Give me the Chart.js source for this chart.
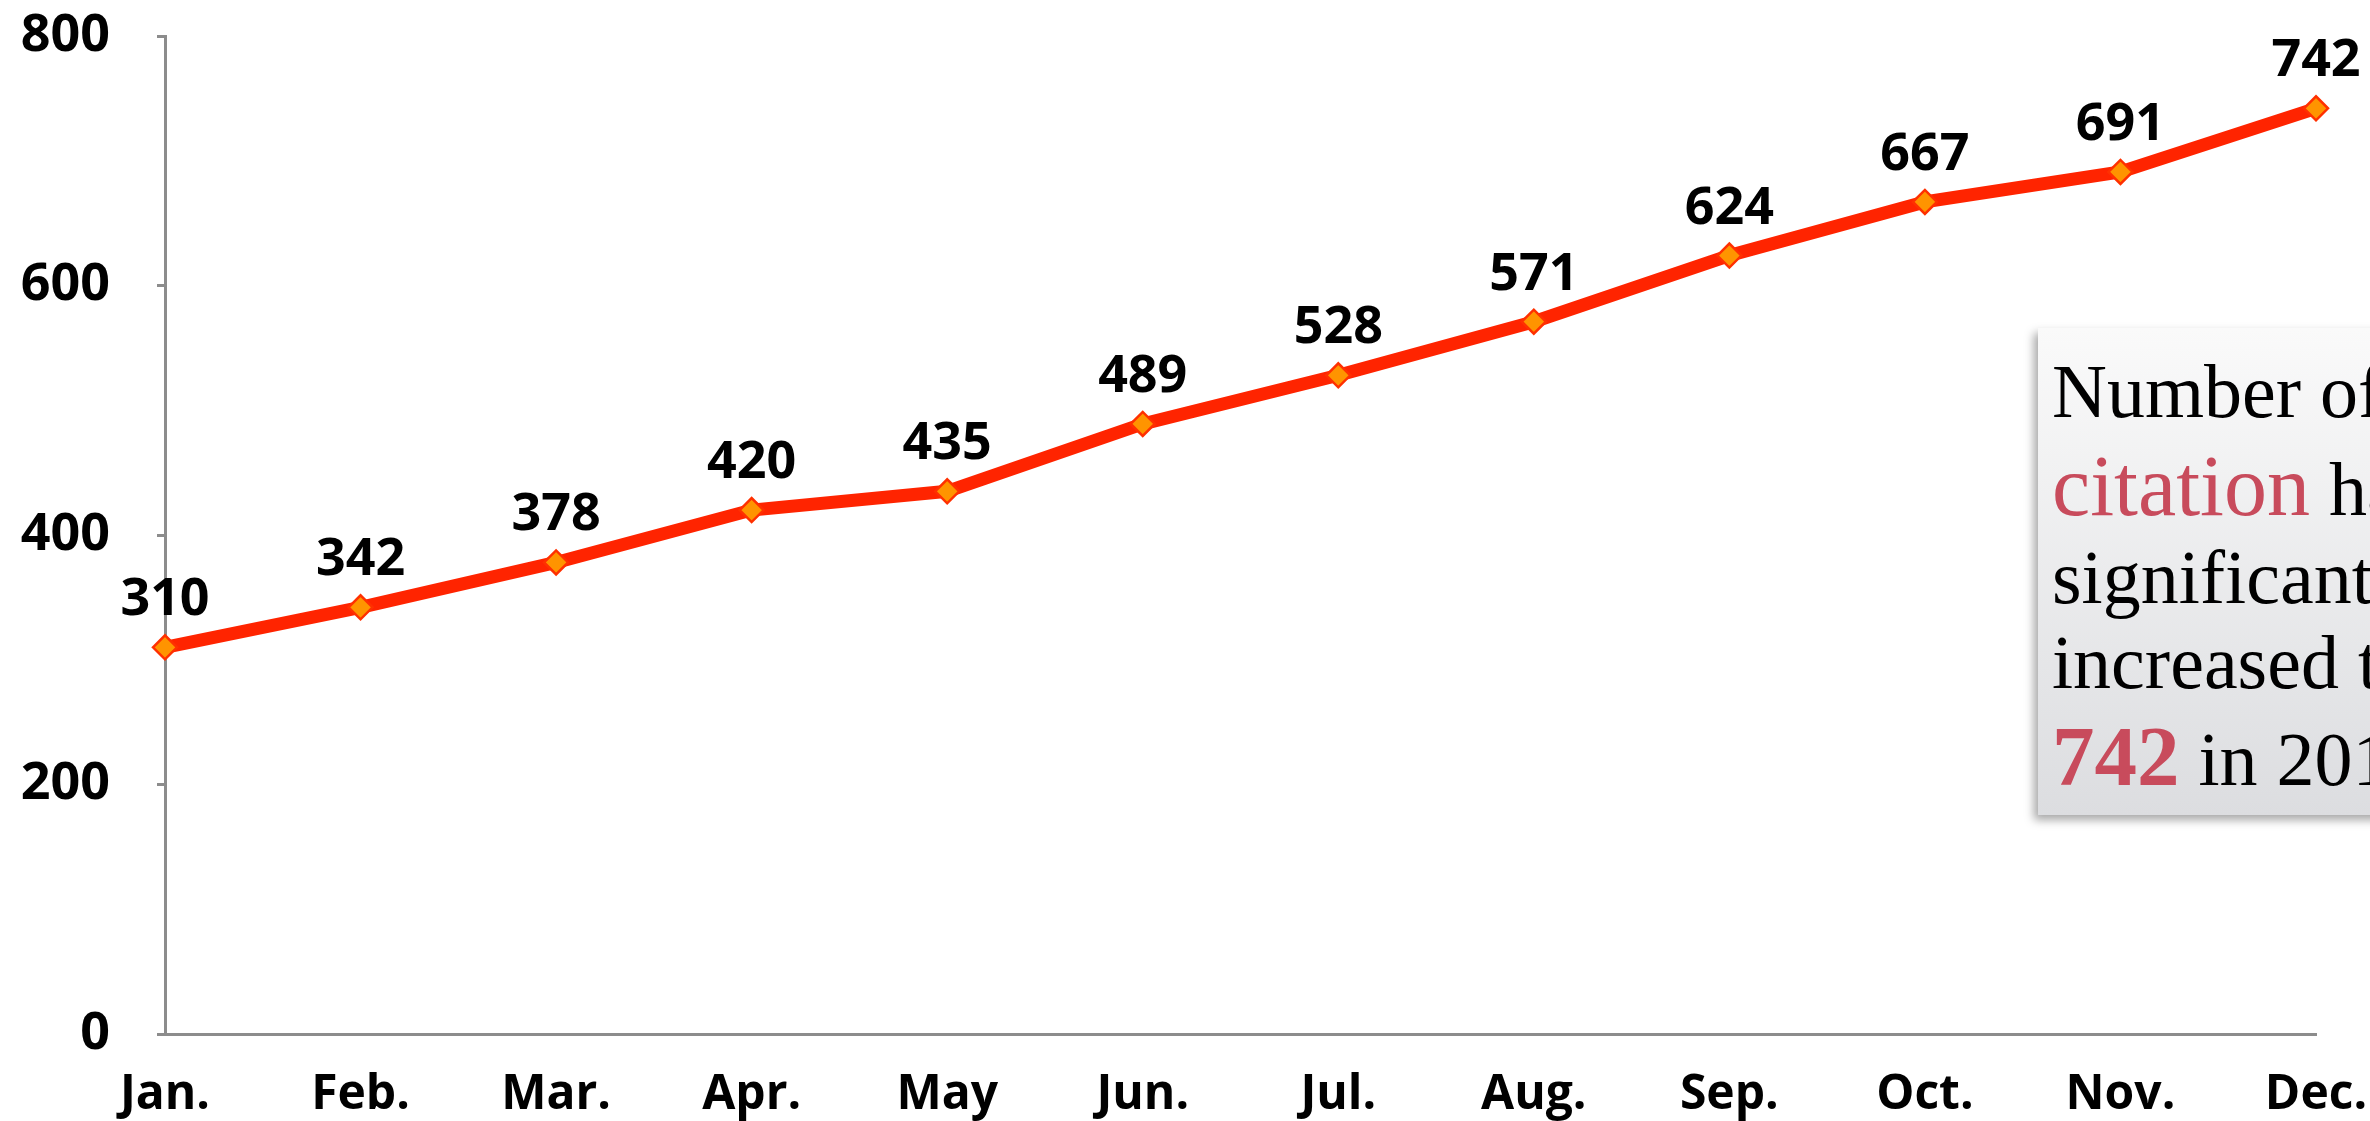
<!DOCTYPE html>
<html>
<head>
<meta charset="utf-8">
<title>Citations per month</title>
<script src="https://cdn.jsdelivr.net/npm/chart.js@4.4.1/dist/chart.umd.min.js"></script>
<style>
  html, body { margin: 0; padding: 0; background: #fff; overflow: hidden; }
  #wrap { position: relative; width: 2370px; height: 1121px; overflow: hidden; }
  #chart { position: absolute; left: 0; top: 0; }
  .note {
    position: absolute; left: 2038px; top: 328px; width: 700px; height: 487px;
    background: linear-gradient(#fafafa, #dcdde0);
    box-shadow: -4px 5px 9px rgba(0, 0, 0, 0.35);
    font-family: "Liberation Serif", "Times New Roman", serif;
    color: #000;
  }
  .note div { position: absolute; left: 14px; height: 88px; line-height: 88px; white-space: nowrap; font-size: 76px; }
  .red { color: #c84b5c; }
</style>
</head>
<body>
<div id="wrap">
  <canvas id="chart" width="2370" height="1121"></canvas>
  <div class="note">
    <div style="top:19px">Number of</div>
    <div style="top:114px"><span class="red" style="font-size:86px">citation</span> has</div>
    <div style="top:205px">significantly</div>
    <div style="top:290px">increased to</div>
    <div style="top:384px"><span class="red" style="font-size:85px;font-weight:bold">742</span> in 2013</div>
  </div>
</div>
<script>
// months and citation counts
const months = ['Jan.', 'Feb.', 'Mar.', 'Apr.', 'May', 'Jun.', 'Jul.', 'Aug.', 'Sep.', 'Oct.', 'Nov.', 'Dec.'];
const citations = [310, 342, 378, 420, 435, 489, 528, 571, 624, 667, 691, 742];
const yTicks = [0, 200, 400, 600, 800];

// draws the value above every point
const pointLabels = {
  id: 'pointLabels',
  afterDatasetsDraw(chart) {
    const ctx = chart.ctx;
    const meta = chart.getDatasetMeta(0);
    ctx.save();
    ctx.font = 'bold 52px "Open Sans"';
    ctx.fillStyle = '#000';
    ctx.textAlign = 'center';
    ctx.textBaseline = 'alphabetic';
    meta.data.forEach((pt, i) => {
      ctx.fillText(String(citations[i]), pt.x, pt.y - 32);
    });
    ctx.restore();
  }
};

function draw() {
  const ctx = document.getElementById('chart').getContext('2d');
  new Chart(ctx, {
    type: 'line',
    data: {
      labels: months,
      datasets: [{
        data: citations,
        borderColor: '#ff2400',
        borderWidth: 13,
        tension: 0,
        pointStyle: 'rectRot',
        pointRadius: 12,
        pointBackgroundColor: '#ff9400',
        pointBorderColor: '#ff3000',
        pointBorderWidth: 2.5,
        clip: false
      }]
    },
    options: {
      responsive: false,
      animation: false,
      devicePixelRatio: 1,
      layout: { padding: { top: 36, right: 54, left: 0, bottom: 0 } },
      plugins: { legend: { display: false }, tooltip: { enabled: false } },
      scales: {
        x: {
          offset: false,
          grid: { display: false, drawTicks: false },
          border: { color: '#8c8c8c', width: 3 },
          ticks: {
            color: '#000',
            font: { family: 'Open Sans', weight: 'bold', size: 48 },
            padding: 33,
            maxRotation: 0,
            autoSkip: false
          },
          afterFit(scale) {
            scale.height = 87;
            scale.paddingLeft = 0;
            scale.paddingRight = 0;
          }
        },
        y: {
          min: 0,
          max: 800,
          afterBuildTicks(scale) { scale.ticks = yTicks.map(v => ({ value: v })); },
          grid: { drawOnChartArea: false, drawTicks: true, tickLength: 8, color: '#8c8c8c', lineWidth: 3 },
          border: { color: '#8c8c8c', width: 3 },
          ticks: {
            color: '#000',
            font: { family: 'Open Sans', weight: 'bold', size: 52 },
            padding: 47
          },
          afterFit(scale) {
            scale.width = 165;
            scale.paddingTop = 0;
            scale.paddingBottom = 0;
          }
        }
      }
    },
    plugins: [pointLabels]
  });
}

if (document.fonts && document.fonts.load) {
  Promise.all([
    document.fonts.load('bold 52px "Open Sans"'),
    document.fonts.load('76px "Liberation Serif"')
  ]).then(draw, draw);
} else {
  draw();
}
</script>
</body>
</html>
